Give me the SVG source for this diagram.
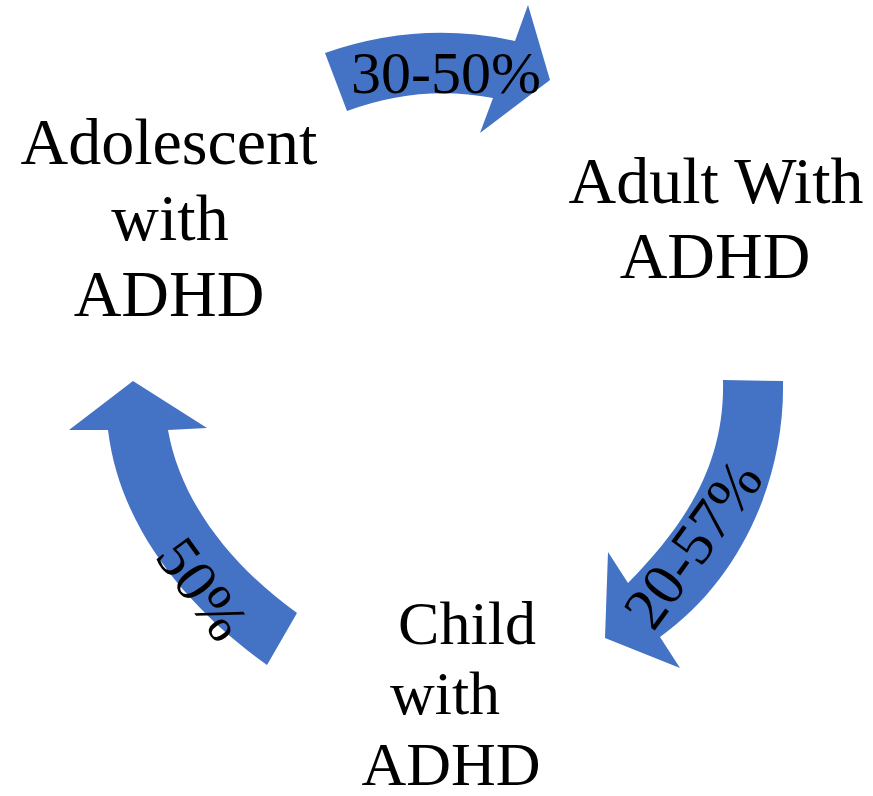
<svg xmlns="http://www.w3.org/2000/svg" width="873" height="796" viewBox="0 0 873 796">
  <style>
    .arrow { fill: #4472C4; stroke: none; }
    .label { font-family: "Liberation Serif", "Times New Roman", serif; fill: #000; text-anchor: middle; }
    .node { font-size: 66px; }
    .small { font-size: 62px; }
    .pct { font-size: 60px; }
  </style>
  <rect width="873" height="796" fill="#fff"/>

  <!-- curved cycle arrows -->
  <g id="connectors">
    <g id="arrow-adolescent-adult">
      <path class="arrow" d="M325,53 Q420,20 515,41 L528,5 L550,80 L480,133 L493,98 Q420,84 347,111 Z"/>
      <text class="label pct" x="446" y="93">30-50%</text>
    </g>
    <g id="arrow-adult-child">
      <path class="arrow" d="M723,380 L783,381 C785,480 740,580 660,637 L680,668 L605,638 L608,552 L628,583 C690,520 725,460 723,380 Z"/>
      <text class="label pct" transform="translate(709,556) rotate(-54)">20-57%</text>
    </g>
    <g id="arrow-child-adolescent">
      <path class="arrow" d="M133,381 L207,428 L168,430 C180,500 230,565 297,613 L267,665 C190,610 120,530 108,430 L69,430 Z"/>
      <text class="label pct" transform="translate(186,601) rotate(54)">50%</text>
    </g>
  </g>

  <!-- stage labels -->
  <g id="node-adolescent">
    <text class="label node" x="169" y="164">Adolescent</text>
    <text class="label node" x="170" y="240">with</text>
    <text class="label node" x="169" y="316">ADHD</text>
  </g>
  <g id="node-adult">
    <text class="label node" x="716" y="203">Adult With</text>
    <text class="label node" x="715" y="278">ADHD</text>
  </g>
  <g id="node-child">
    <text class="label small" x="467" y="644">Child</text>
    <text class="label small" x="445" y="714">with</text>
    <text class="label small" x="451" y="785">ADHD</text>
  </g>
</svg>
